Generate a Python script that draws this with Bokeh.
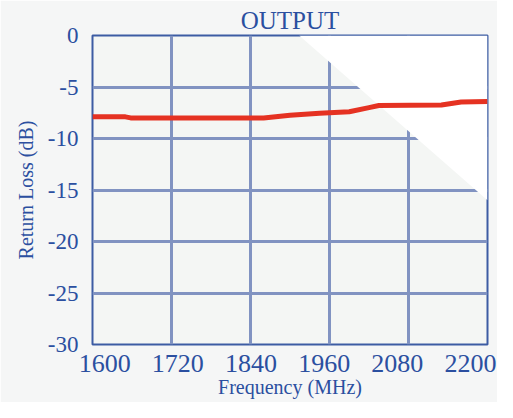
from bokeh.plotting import figure
from bokeh.models import Range1d, LinearAxis, FixedTicker, Grid, PrintfTickFormatter
from bokeh.embed import file_html
from bokeh.resources import INLINE

# ---- data ----
freq_mhz = [1600, 1650, 1658, 1860, 1900, 1945, 1990, 2020, 2035, 2130, 2160, 2200]
return_loss_db = [-7.9, -7.9, -8.0, -8.0, -7.75, -7.55, -7.4, -7.0, -6.8, -6.75, -6.45, -6.4]
x_ticks = [1600, 1720, 1840, 1960, 2080, 2200]
y_ticks = [0, -5, -10, -15, -20, -25, -30]
# light background shading (upper-right white wedge of the scan)
shade_x = [1914, 2200, 2200]
shade_y = [0, 0, -16]

BLUE = "#2b4fa0"
GRID = "#8193c1"
FONT = "Liberation Serif"

p = figure(
    width=497, height=402,
    x_range=Range1d(1600, 2200), y_range=Range1d(-30, 0),
    x_axis_location=None,
    output_backend="svg", toolbar_location=None,
    min_border_left=92, min_border_top=35, min_border_right=10, min_border_bottom=58,
    background_fill_color="#f4f6f4", border_fill_color="#f5f6f6",
)

p.title.text = "OUTPUT"
p.title.align = "center"
p.title.vertical_align = "top"
p.title.text_font = FONT
p.title.text_font_style = "normal"
p.title.text_font_size = "25px"
p.title.text_color = BLUE
p.title.standoff = 0
p.title.offset = 4

p.patch(shade_x, shade_y, fill_color="white", line_color=None)

# label axis (scanned labels are slightly offset from gridlines)
p.extra_x_ranges = {"lab": Range1d(1580, 2228)}
lab = LinearAxis(x_range_name="lab", ticker=FixedTicker(ticks=x_ticks))
lab.formatter = PrintfTickFormatter(format="%d")
lab.major_label_text_font = FONT
lab.major_label_text_font_size = "26px"
lab.major_label_text_color = BLUE
lab.major_label_standoff = 4
lab.major_tick_line_color = None
lab.minor_tick_line_color = None
lab.axis_line_color = None
lab.axis_label = "Frequency (MHz)"
lab.axis_label_text_font = FONT
lab.axis_label_text_font_style = "normal"
lab.axis_label_text_font_size = "20px"
lab.axis_label_text_color = BLUE
lab.axis_label_standoff = 1
p.add_layout(lab, "below")

ya = p.yaxis[0]
ya.ticker = FixedTicker(ticks=y_ticks)
ya.formatter = PrintfTickFormatter(format="%d")
ya.major_label_text_font = FONT
ya.major_label_text_font_size = "23px"
ya.major_label_text_color = BLUE
ya.major_label_standoff = 8
ya.major_tick_line_color = None
ya.minor_tick_line_color = None
ya.axis_line_color = None
ya.axis_label = "Return Loss (dB)"
ya.axis_label_text_font = FONT
ya.axis_label_text_font_style = "normal"
ya.axis_label_text_font_size = "20px"
ya.axis_label_text_color = BLUE
ya.axis_label_standoff = 8

for g in p.xgrid:
    g.visible = False
p.add_layout(Grid(dimension=0, ticker=FixedTicker(ticks=x_ticks),
                  grid_line_color=GRID, grid_line_width=3))
p.ygrid.grid_line_color = GRID
p.ygrid.grid_line_width = 3

p.outline_line_color = "#3d5ca3"
p.outline_line_width = 2

p.line(freq_mhz, return_loss_db, line_color="#e53222", line_width=5)

open("out.html", "w").write(file_html(p, INLINE))
